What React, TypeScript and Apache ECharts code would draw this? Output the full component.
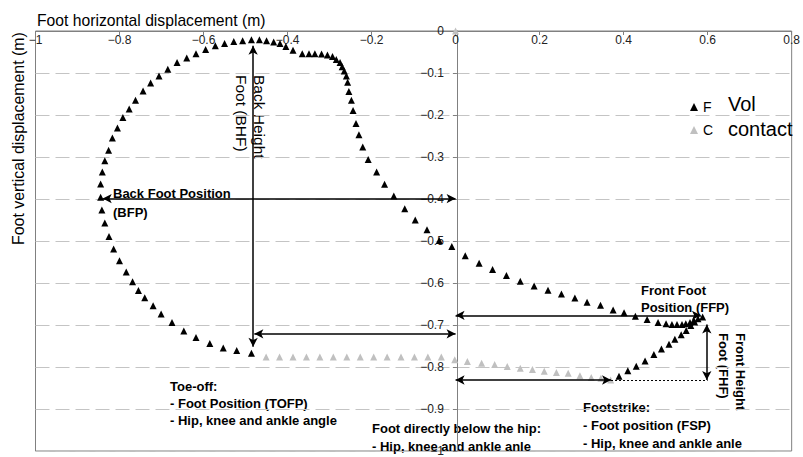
import React, { useEffect, useRef } from "react";
import * as echarts from "echarts";

// Swing (black) series
const flightX = [
  -0.486, -0.521, -0.553, -0.585, -0.618, -0.647, -0.675, -0.701, -0.72, -0.74,
  -0.755, -0.769, -0.784, -0.8, -0.814, -0.825, -0.835, -0.842, -0.845, -0.845,
  -0.841, -0.835, -0.826, -0.817, -0.805, -0.792, -0.777, -0.762, -0.744, -0.726,
  -0.706, -0.685, -0.663, -0.64, -0.618, -0.595, -0.572, -0.55, -0.528, -0.507,
  -0.486, -0.467, -0.45, -0.433, -0.418, -0.404, -0.387, -0.365, -0.349, -0.335,
  -0.319, -0.305, -0.293, -0.284, -0.275, -0.27, -0.265, -0.26, -0.257, -0.254,
  -0.248, -0.244, -0.237, -0.23, -0.221, -0.208, -0.188, -0.169, -0.147, -0.121,
  -0.096, -0.068, -0.039, -0.009, 0.023, 0.056, 0.088, 0.121, 0.154, 0.187,
  0.22, 0.252, 0.284, 0.313, 0.345, 0.375, 0.401, 0.428, 0.456, 0.482,
  0.501, 0.515, 0.527, 0.539, 0.548, 0.558, 0.567, 0.577, 0.588, 0.569,
  0.56, 0.549, 0.537, 0.522, 0.508, 0.49, 0.472, 0.451, 0.43, 0.41, 0.389,
];
const flightY = [
  -0.767, -0.761, -0.755, -0.744, -0.73, -0.714, -0.694, -0.674, -0.654, -0.635,
  -0.618, -0.597, -0.574, -0.547, -0.519, -0.489, -0.457, -0.426, -0.396, -0.364,
  -0.336, -0.309, -0.284, -0.255, -0.231, -0.206, -0.186, -0.165, -0.143, -0.124,
  -0.107, -0.091, -0.075, -0.064, -0.054, -0.044, -0.035, -0.03, -0.025, -0.023,
  -0.021, -0.021, -0.023, -0.026, -0.03, -0.037, -0.046, -0.054, -0.054, -0.054,
  -0.055, -0.057, -0.061, -0.068, -0.075, -0.085, -0.095, -0.107, -0.122, -0.144,
  -0.165, -0.189, -0.22, -0.247, -0.276, -0.306, -0.336, -0.365, -0.393, -0.423,
  -0.45, -0.473, -0.499, -0.513, -0.535, -0.553, -0.568, -0.582, -0.596, -0.607,
  -0.617, -0.626, -0.636, -0.646, -0.653, -0.664, -0.671, -0.679, -0.687, -0.694,
  -0.697, -0.699, -0.699, -0.699, -0.697, -0.694, -0.689, -0.685, -0.681, -0.693,
  -0.701, -0.713, -0.723, -0.734, -0.746, -0.757, -0.77, -0.786, -0.798, -0.809, -0.822,
];

// Contact (grey) series
const contactX = [
  0, -0.451, -0.419, -0.387, -0.355, -0.323, -0.291, -0.259, -0.227, -0.195, -0.163,
  -0.13, -0.098, -0.066, -0.034, -0.002, 0.028, 0.062, 0.093, 0.123, 0.154, 0.183,
  0.211, 0.24, 0.268, 0.296, 0.323, 0.346, 0.369,
];
const contactY = [
  0, -0.776, -0.776, -0.776, -0.776, -0.776, -0.776, -0.776, -0.776, -0.776, -0.776,
  -0.776, -0.776, -0.776, -0.776, -0.783, -0.787, -0.791, -0.794, -0.799, -0.803, -0.806,
  -0.81, -0.813, -0.815, -0.821, -0.825, -0.827, -0.831,
];

const seriesNames = ["F", "C"];
const legendExtra = ["Vol", "contact"];

// Annotation arrows in data units: [x1, y1, x2, y2]
const arrowBHF = [-0.482, -0.035, -0.482, -0.752];
const arrowBFP = [-0.84, -0.399, 0, -0.399];
const arrowTOFP = [-0.479, -0.721, 0, -0.721];
const arrowFFP = [0, -0.677, 0.584, -0.677];
const arrowFSP = [0, -0.831, 0.37, -0.831];
const arrowFHF = [0.598, -0.699, 0.598, -0.831];
const guideFSP = [0.37, -0.831, 0.6, -0.831];

const xTitle = "Foot horizontal displacement (m)";
const yTitle = "Foot vertical displacement (m)";

const FONT = "'Liberation Sans', Arial, sans-serif";

const GRID_LEFT = 35.5;
const GRID_RIGHT = 9;
const CHART_W = 803;
const X_MIN = -1;
const X_MAX = 0.8;

const fmt = (v: number) => {
  const r = Math.round(v * 10) / 10;
  return String(r).replace("-", "\u2212");
};

export default function App() {
  const ref = useRef<HTMLDivElement>(null);
  useEffect(() => {
    document.body.style.margin = "0";
    if (!ref.current) return;
    const chart = echarts.init(ref.current, undefined, { renderer: "svg" });
    const zip = (xs: number[], ys: number[]) => xs.map((x, i) => [x, ys[i]]);
    const arrowPair = (a: number[]) => [{ coord: [a[0], a[1]] }, { coord: [a[2], a[3]] }];

    // shift the y axis from the grid's left edge to x = 0
    const plotW = CHART_W - GRID_LEFT - GRID_RIGHT;
    const yAxisOffset = -((0 - X_MIN) / (X_MAX - X_MIN)) * plotW;

    const boldText = (x: number, y: number, text: string, lh: number, rotation = 0) => ({
      type: "text",
      x,
      y,
      rotation,
      silent: true,
      style: {
        text,
        x: 0,
        y: 0,
        fill: "#000",
        font: `bold 13px ${FONT}`,
        lineHeight: lh,
        textAlign: "left",
        textVerticalAlign: "top",
        align: "left",
        verticalAlign: "top",
      },
    });

    const option: any = {
      animation: false,
      textStyle: { fontFamily: FONT },
      grid: {
        left: GRID_LEFT,
        right: GRID_RIGHT,
        top: 31,
        bottom: -2,
        show: true,
        borderColor: "#808080",
        borderWidth: 1,
        backgroundColor: "transparent",
      },
      xAxis: {
        type: "value",
        min: X_MIN,
        max: X_MAX,
        interval: 0.2,
        position: "top",
        axisLine: { show: true, onZero: false, lineStyle: { color: "#808080", width: 1 } },
        axisTick: { show: true, inside: true, length: 4, lineStyle: { color: "#808080" } },
        axisLabel: {
          inside: true,
          formatter: fmt,
          fontSize: 12,
          color: "#222",
          margin: 3,
          fontFamily: FONT,
          showMinLabel: true,
          showMaxLabel: true,
        },
        splitLine: { show: false },
      },
      yAxis: {
        type: "value",
        min: -1,
        max: 0,
        interval: 0.1,
        position: "left",
        offset: yAxisOffset,
        axisLine: { show: true, onZero: false, lineStyle: { color: "#808080", width: 1 } },
        axisTick: { show: true, length: 4, lineStyle: { color: "#808080" } },
        axisLabel: {
          formatter: fmt,
          fontSize: 12,
          color: "#222",
          margin: 13,
          fontFamily: FONT,
          showMinLabel: true,
          showMaxLabel: true,
        },
        splitLine: { show: true, lineStyle: { color: "#c4c4c4", type: [14, 6], width: 1 } },
      },
      legend: {
        orient: "vertical",
        left: 685,
        top: 95,
        itemWidth: 8,
        itemHeight: 8,
        itemGap: 9,
        selectedMode: false,
        data: seriesNames,
        textStyle: { fontSize: 14, color: "#000", fontFamily: FONT },
      },
      series: [
        {
          name: seriesNames[0],
          type: "scatter",
          symbol: "triangle",
          symbolSize: 7,
          itemStyle: { color: "#000", opacity: 1 },
          data: zip(flightX, flightY),
          z: 3,
          markLine: {
            silent: true,
            symbol: ["arrow", "arrow"],
            symbolSize: [7, 9],
            label: { show: false },
            emphasis: { disabled: true },
            lineStyle: { color: "#000", width: 1.5, type: "solid", opacity: 1 },
            data: [
              arrowPair(arrowBHF),
              arrowPair(arrowBFP),
              arrowPair(arrowTOFP),
              arrowPair(arrowFFP),
              arrowPair(arrowFSP),
              arrowPair(arrowFHF),
              [
                {
                  coord: [guideFSP[0], guideFSP[1]],
                  symbol: "none",
                  lineStyle: { color: "#000", width: 1, type: [2, 2] },
                },
                { coord: [guideFSP[2], guideFSP[3]], symbol: "none" },
              ],
            ],
          },
        },
        {
          name: seriesNames[1],
          type: "scatter",
          symbol: "triangle",
          symbolSize: 7,
          itemStyle: { color: "#c0c0c0", opacity: 1 },
          data: zip(contactX, contactY),
          z: 2,
        },
      ],
      graphic: [
        {
          type: "text",
          x: 37,
          y: 20,
          silent: true,
          style: {
            text: xTitle,
            fill: "#000",
            font: `15.7px ${FONT}`,
            textAlign: "left",
            textVerticalAlign: "middle",
            align: "left",
            verticalAlign: "middle",
          },
        },
        {
          type: "text",
          x: 18,
          y: 245,
          rotation: Math.PI / 2,
          silent: true,
          style: {
            text: yTitle,
            fill: "#000",
            font: `15.9px ${FONT}`,
            textAlign: "left",
            textVerticalAlign: "middle",
            align: "left",
            verticalAlign: "middle",
          },
        },
        {
          type: "text",
          x: 728,
          y: 104,
          silent: true,
          style: {
            text: legendExtra[0],
            fill: "#000",
            font: `20px ${FONT}`,
            textAlign: "left",
            textVerticalAlign: "middle",
            align: "left",
            verticalAlign: "middle",
          },
        },
        {
          type: "text",
          x: 728,
          y: 129,
          silent: true,
          style: {
            text: legendExtra[1],
            fill: "#000",
            font: `20px ${FONT}`,
            textAlign: "left",
            textVerticalAlign: "middle",
            align: "left",
            verticalAlign: "middle",
          },
        },
        {
          type: "text",
          x: 268,
          y: 75,
          rotation: -Math.PI / 2,
          silent: true,
          style: {
            text: "Back Height\nFoot (BHF)",
            fill: "#000",
            font: `15.5px ${FONT}`,
            lineHeight: 18,
            textAlign: "left",
            textVerticalAlign: "top",
            align: "left",
            verticalAlign: "top",
          },
        },
        boldText(113, 184, "Back Foot Position\n(BFP)", 19),
        boldText(170, 378, "Toe-off:\n- Foot Position (TOFP)\n- Hip, knee and ankle angle", 17),
        boldText(372, 419.5, "Foot directly below the hip:\n- Hip, knee and ankle anle", 18),
        boldText(641, 281.5, "Front Foot\nPosition (FFP)", 17),
        boldText(583, 398, "Footstrike:\n- Foot position (FSP)\n- Hip, knee and ankle anle", 18),
        boldText(748.5, 333, "Front Height\nFoot (FHF)", 17, -Math.PI / 2),
      ],
    };
    chart.setOption(option);
    return () => chart.dispose();
  }, []);
  return <div ref={ref} style={{ width: 803, height: 457 }} />;
}
